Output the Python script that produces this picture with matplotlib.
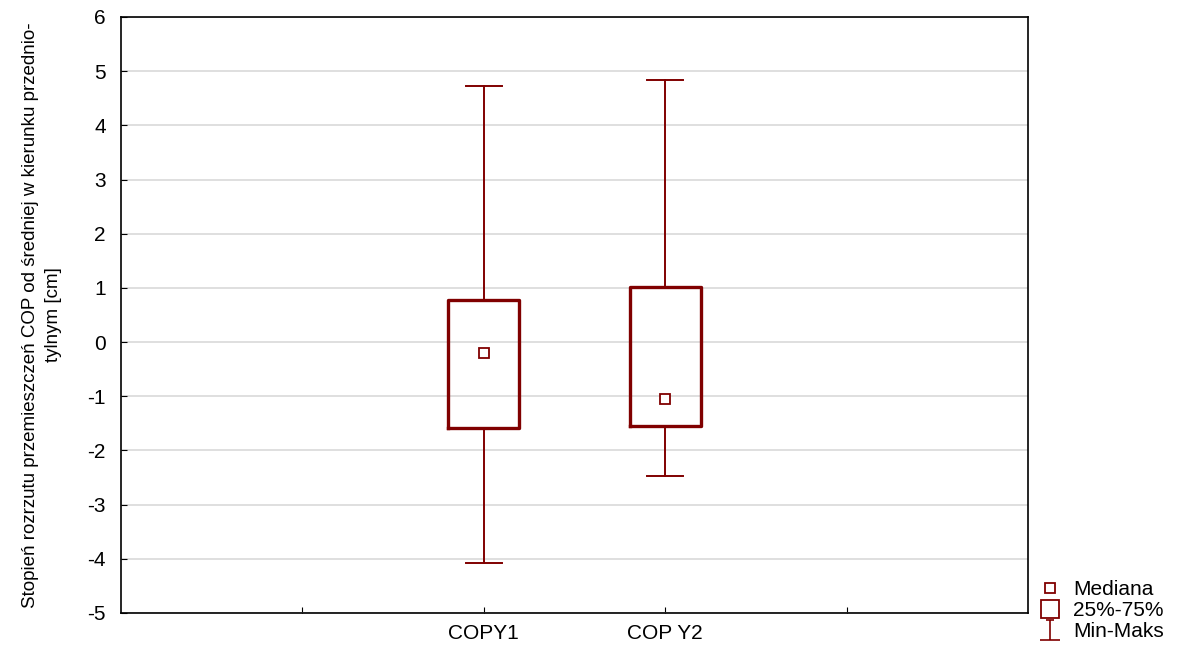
import matplotlib.pyplot as plt
from matplotlib.lines import Line2D
from matplotlib.path import Path

plt.rcParams['font.family'] = ['Liberation Sans', 'DejaVu Sans']
plt.rcParams['axes.unicode_minus'] = False

# Summary statistics per variable
labels = ['COPY1', 'COP Y2']
positions = [2, 3]
minimum = [-4.07, -2.48]
q1 = [-1.59, -1.55]
median = [-0.20, -1.05]
q3 = [0.78, 1.01]
maximum = [4.72, 4.84]

color = '#800000'

fig = plt.figure(figsize=(11.92, 6.46), dpi=100)
ax = fig.add_axes([0.1015, 0.0511, 0.7609, 0.9226])

stats = []
for i in range(len(labels)):
    stats.append({'med': median[i], 'q1': q1[i], 'q3': q3[i],
                  'whislo': minimum[i], 'whishi': maximum[i], 'label': labels[i]})

ax.bxp(stats, positions=positions, widths=0.39, capwidths=0.2,
       showfliers=False, patch_artist=False,
       boxprops=dict(color=color, linewidth=2.4),
       whiskerprops=dict(color=color, linewidth=1.4),
       capprops=dict(color=color, linewidth=1.4),
       medianprops=dict(linestyle='none'))
ax.plot(positions, median, linestyle='none', marker='s', markersize=7,
        markerfacecolor='white', markeredgecolor=color, markeredgewidth=1.3)

ax.set_xlim(0, 5)
ax.set_ylim(-5, 6)
ax.set_xticks([1, 2, 3, 4])
ax.set_xticklabels(['', 'COPY1', 'COP Y2', ''], fontsize=15)
ax.set_yticks(range(-5, 7))
ax.tick_params(axis='y', direction='in', length=4, labelsize=15, pad=11)
ax.tick_params(axis='x', direction='in', length=4, pad=8)
ax.yaxis.grid(True, color='#d9d9d9', linewidth=1.2)
ax.set_axisbelow(True)
for s in ax.spines.values():
    s.set_linewidth(1.2)

ax.set_ylabel('Stopień rozrzutu przemieszczeń COP od średniej w kierunku przednio-\ntylnym [cm]',
              fontsize=13.5, linespacing=1.5, labelpad=18)

# legend symbol for min-max range
minmax_path = Path([(-0.4, 1), (0.4, 1), (0, 1), (0, -1), (-1, -1), (1, -1)],
                   [Path.MOVETO, Path.LINETO, Path.MOVETO, Path.LINETO,
                    Path.MOVETO, Path.LINETO])
handles = [
    Line2D([], [], linestyle='none', marker='s', markersize=7,
           markerfacecolor='white', markeredgecolor=color, markeredgewidth=1.3),
    Line2D([], [], linestyle='none', marker='s', markersize=13,
           markerfacecolor='white', markeredgecolor=color, markeredgewidth=1.3),
    Line2D([], [], linestyle='none', marker=minmax_path, markersize=14,
           markerfacecolor='none', markeredgecolor=color, markeredgewidth=1.2),
]
fig.legend(handles, ['Mediana', '25%-75%', 'Min-Maks'], loc='lower left',
           bbox_to_anchor=(0.862, -0.012), frameon=False, fontsize=15,
           handlelength=1.0, handletextpad=0.6, labelspacing=0.1,
           borderaxespad=0.2)

fig.savefig('out.png', dpi=100)
